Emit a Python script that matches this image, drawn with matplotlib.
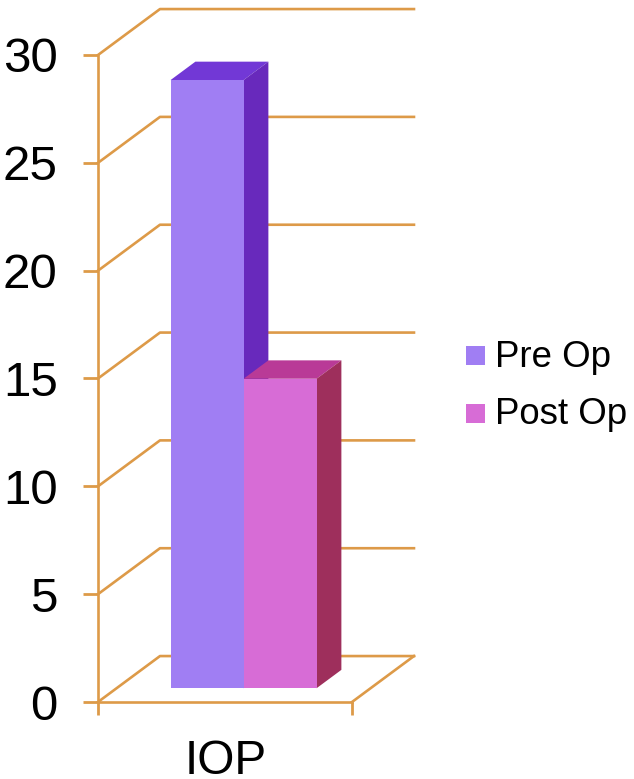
import matplotlib
matplotlib.use('Agg')
import matplotlib.pyplot as plt
from matplotlib.patches import Polygon, Patch

plt.rcParams['font.family'] = ['Liberation Sans', 'DejaVu Sans']

# Data
categories = ['IOP']
series_names = ['Pre Op', 'Post Op']
series_values = [28.2, 14.35]
y_ticks = [0, 5, 10, 15, 20, 25, 30]

# Bar colours: front, top, side
front_colors = ['#A07EF3', '#D76CD6']
top_colors = ['#7238D6', '#B93A97']
side_colors = ['#6829BC', '#9E2F5C']
grid_color = '#DD9A48'

# 3D look: shift applied at full depth, in data units
depth_x = 0.244
depth_y = 2.13
bar_width = 0.2874
bar_start = 0.2126
depth_near = 0.3
depth_far = 0.7


def project(x, y, d):
    return (x + d * depth_x, y + d * depth_y)


def draw_bar(ax, x0, x1, value, front, top, side):
    base = [project(x0, 0, depth_near), project(x1, 0, depth_near)]
    upper = [project(x1, value, depth_near), project(x0, value, depth_near)]
    ax.add_patch(Polygon(base + upper, closed=True, fc=front, ec='none', zorder=4))
    ax.add_patch(Polygon([project(x0, value, depth_near), project(x1, value, depth_near),
                          project(x1, value, depth_far), project(x0, value, depth_far)],
                         closed=True, fc=top, ec='none', zorder=3, clip_on=False))
    ax.add_patch(Polygon([project(x1, 0, depth_near), project(x1, value, depth_near),
                          project(x1, value, depth_far), project(x1, 0, depth_far)],
                         closed=True, fc=side, ec='none', zorder=3, clip_on=False))


fig = plt.figure(figsize=(6.34, 7.79), dpi=100)
ax = fig.add_axes([98 / 634, 1 - 702 / 779, 254 / 634, 647 / 779])
ax.set_xlim(0, 1)
ax.set_ylim(0, 30)
for spine in ['top', 'right']:
    ax.spines[spine].set_visible(False)
for spine in ['left', 'bottom']:
    ax.spines[spine].set_color(grid_color)
    ax.spines[spine].set_linewidth(1.9)

ax.set_yticks(y_ticks)
ax.set_xticks([0, 1])
ax.set_xticklabels([])
ax.tick_params(axis='y', length=11, width=2, color=grid_color, labelsize=35.5, pad=18)
ax.tick_params(axis='x', length=9, width=2, color=grid_color)
for label in ax.get_yticklabels():
    label.set_verticalalignment('center_baseline')

# Side wall and back wall lines
for t in y_ticks:
    xs, ys = zip(project(0, t, 0), project(0, t, 1), project(1, t, 1))
    ax.plot(xs, ys, color=grid_color, lw=1.9, clip_on=False, zorder=1)
xs, ys = zip(project(1, 0, 0), project(1, 0, 1))
ax.plot(xs, ys, color=grid_color, lw=1.9, clip_on=False, zorder=1)

# Left bar first, the top of the right bar overlaps its side
for i in range(len(series_values)):
    x0 = bar_start + i * bar_width
    draw_bar(ax, x0, x0 + bar_width, series_values[i], front_colors[i], top_colors[i], side_colors[i])

ax.text(0.504, -0.1113, categories[0], transform=ax.get_xaxis_transform(), ha='center', va='baseline',
        fontsize=34.5, color='black', clip_on=False)

handles = [Patch(facecolor=c, edgecolor='none') for c in front_colors]
leg = ax.legend(handles, series_names, loc='center left', bbox_to_anchor=(368 / 254, (702 - 386) / 647),
                frameon=False, fontsize=26.4, handlelength=0.52, handleheight=0.43, handletextpad=0.27,
                labelspacing=0.61, borderpad=0, borderaxespad=0)
# Swatches sit a little lower against the text
for patch in leg.get_patches():
    patch.set_y(patch.get_y() - 1.5)

fig.savefig('out.png', dpi=100)
